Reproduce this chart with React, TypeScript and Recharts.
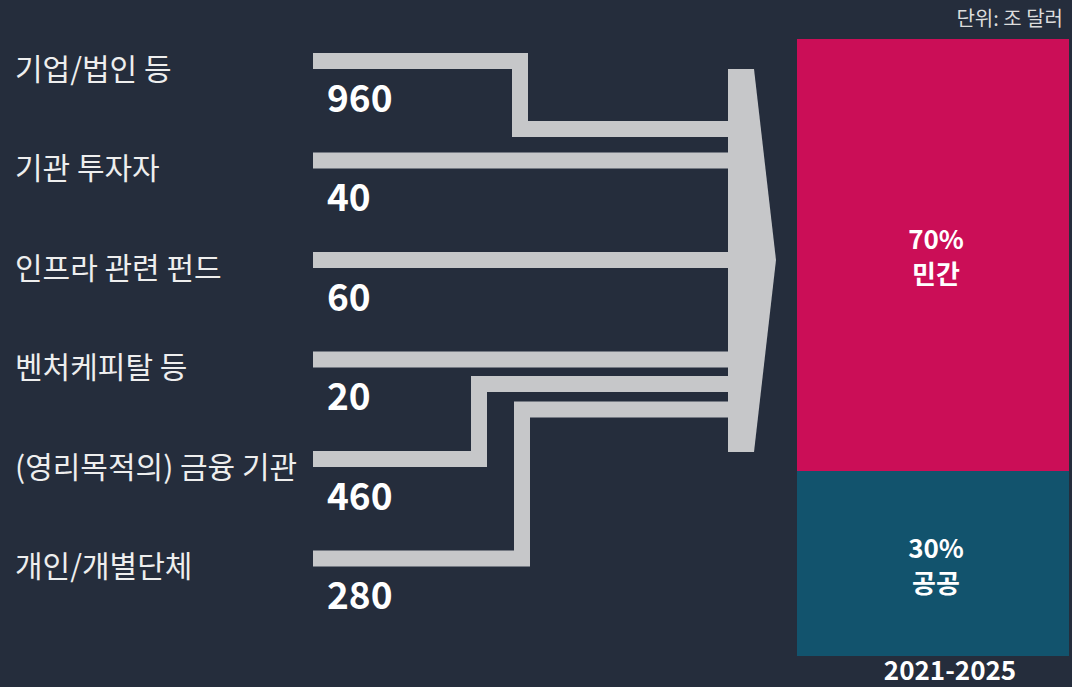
import { Bar, BarChart, Customized, LabelList, XAxis, YAxis } from "recharts";

document.body.style.margin = "0";

// sources of investment (조 달러)
const sources = [
	"기업/법인 등",
	"기관 투자자",
	"인프라 관련 펀드",
	"벤처케피탈 등",
	"(영리목적의) 금융 기관",
	"개인/개별단체",
];
const amounts = [960, 40, 60, 20, 460, 280];

// share of total, 2021-2025
const periods = ["2021-2025"];
const privateShare = [70];
const publicShare = [30];
const shareNames = ["민간", "공공"];
const unitLabel = "단위: 조 달러";

const flowData = sources.map((name, i) => ({ name, amount: amounts[i] }));
const shareData = periods.map((period, i) => ({
	period,
	private: privateShare[i],
	public: publicShare[i],
}));

const BG = "#252d3c";
const GREY = "#c6c7c9";
const FONT = "'Noto Sans CJK KR', 'Noto Sans', sans-serif";

// connector routing: where a row bends to join its lane into the arrow
const routes: ({ bend: number; shift: number } | null)[] = [
	{ bend: 520, shift: 68 },
	null,
	null,
	null,
	{ bend: 479, shift: -75 },
	{ bend: 522, shift: -149 },
];
const LINE_START = 313;
const ARROW_X = 729;

const SourceTick = (props: any) => {
	const { y, payload, index } = props;
	return (
		<g>
			<text
				x={15}
				y={y + 6}
				dominantBaseline="central"
				fill="#eeeeee"
				fontSize={30}
				fontFamily={FONT}
			>
				{payload.value}
			</text>
			<text
				x={327}
				y={y + 35}
				dominantBaseline="central"
				fill="#fff"
				fontSize={37}
				fontWeight={700}
				fontFamily={FONT}
			>
				{amounts[index]}
			</text>
		</g>
	);
};

const Connector = (props: any) => {
	const { y, height, index } = props;
	const cy = y + height / 2;
	const r = routes[index];
	const d = r
		? `M${LINE_START},${cy} H${r.bend} V${cy + r.shift} H${ARROW_X}`
		: `M${LINE_START},${cy} H${ARROW_X}`;
	return <path d={d} fill="none" stroke={GREY} strokeWidth={16} strokeLinejoin="miter" />;
};

const FlowArrow = () => (
	<polygon points="728,69 754,69 776,260 754,452 728,452" fill={GREY} />
);

const ShareLabel = (props: any) => {
	const { x, y, width, height, value, title } = props;
	const cx = x + width / 2;
	const cy = y + height / 2;
	return (
		<g fill="#fff" fontSize={26} fontWeight={700} fontFamily={FONT}>
			<text x={cx + 3} y={cy - 17} textAnchor="middle" dominantBaseline="central">
				{value}%
			</text>
			<text x={cx + 3} y={cy + 18} textAnchor="middle" dominantBaseline="central">
				{title}
			</text>
		</g>
	);
};

const PeriodTick = (props: any) => {
	const { x, y, payload } = props;
	return (
		<text
			x={x + 17}
			y={y + 16}
			textAnchor="middle"
			fill="#fff"
			fontSize={26}
			fontWeight={700}
			fontFamily={FONT}
		>
			{payload.value}
		</text>
	);
};

export default function App() {
	return (
		<div style={{ position: "relative", width: 1072, height: 687, background: BG, overflow: "hidden" }}>
			<div style={{ position: "absolute", left: 0, top: 0 }}>
				<BarChart
					layout="vertical"
					width={800}
					height={687}
					data={flowData}
					margin={{ top: 11, right: 0, bottom: 79, left: 0 }}
				>
					<XAxis type="number" hide domain={[0, 1000]} />
					<YAxis
						type="category"
						dataKey="name"
						width={4}
						axisLine={false}
						tickLine={false}
						interval={0}
						tick={(p: any) => <SourceTick {...p} />}
					/>
					<Bar dataKey="amount" isAnimationActive={false} shape={(p: any) => <Connector {...p} />} />
					<Customized component={FlowArrow} />
				</BarChart>
			</div>
			<div style={{ position: "absolute", left: 780, top: 0 }}>
				<BarChart
					width={292}
					height={687}
					data={shareData}
					margin={{ top: 39, right: 3, bottom: 0, left: 17 }}
					barCategoryGap={0}
				>
					<XAxis
						dataKey="period"
						height={31}
						axisLine={false}
						tickLine={false}
						tick={(p: any) => <PeriodTick {...p} />}
					/>
					<YAxis hide domain={[0, 100]} />
					<Bar dataKey="public" stackId="s" fill="#12536d" isAnimationActive={false}>
						<LabelList
							dataKey="public"
							content={(p: any) => <ShareLabel {...p} title={shareNames[1]} />}
						/>
					</Bar>
					<Bar dataKey="private" stackId="s" fill="#cb0e57" isAnimationActive={false}>
						<LabelList
							dataKey="private"
							content={(p: any) => <ShareLabel {...p} title={shareNames[0]} />}
						/>
					</Bar>
				</BarChart>
				<div
					style={{
						position: "absolute",
						right: 9,
						top: 3,
						color: "#dcdcdc",
						fontSize: 20,
						fontFamily: FONT,
						whiteSpace: "nowrap",
					}}
				>
					{unitLabel}
				</div>
			</div>
		</div>
	);
}
